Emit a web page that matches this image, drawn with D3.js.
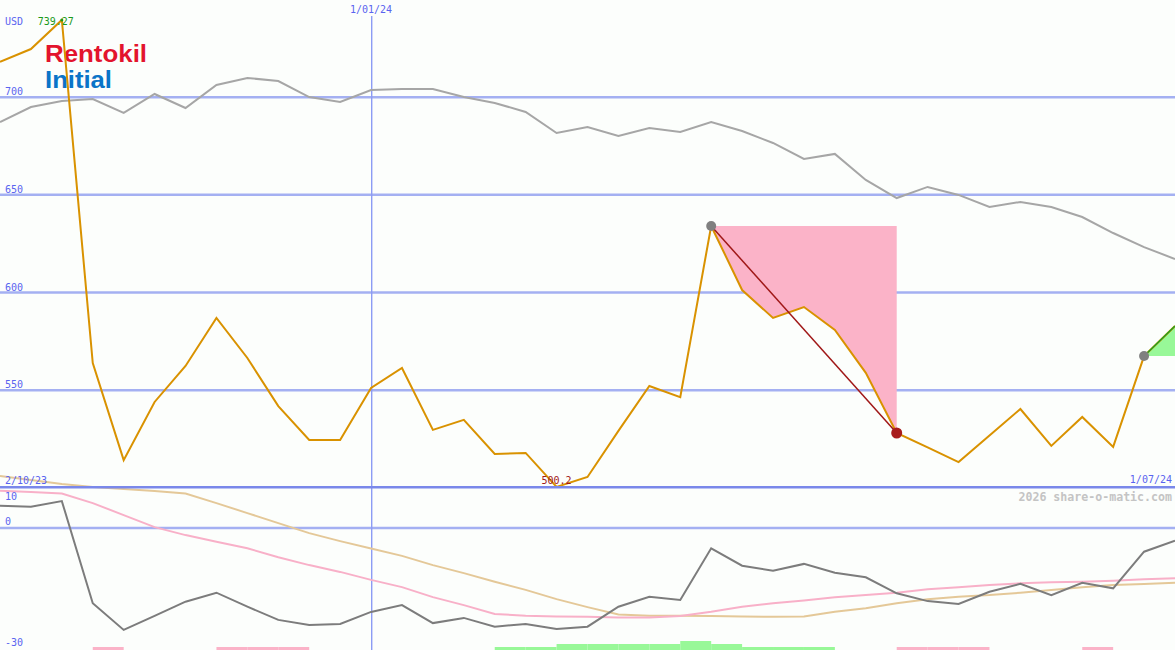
<!DOCTYPE html>
<html>
<head>
<meta charset="utf-8">
<script src="https://cdn.jsdelivr.net/npm/d3@7"></script>
<style>
html,body{margin:0;padding:0;background:#fcfefc;}
svg{display:block;}
</style>
</head>
<body>
<svg id="chart" width="1175" height="650"></svg>
<script>
// ---------- DATA ----------
const weekIndex = d3.range(39);
const price = [717.8,724.4,739.27,563.6,513.9,543.7,562.1,586.7,566.2,541.6,524.2,524.2,550.9,561.1,529.4,534.5,517.1,517.6,500.2,505.3,528.9,551.9,546.2,633.8,601.0,586.7,592.3,580.6,558.6,527.8,520.4,512.9,526.5,540.1,521.2,536.0,520.7,567.2,582.6];
const benchmark = [687.0,694.7,697.8,698.8,691.7,701.4,694.2,706.0,709.6,708.0,699.8,697.3,703.4,703.9,703.9,699.8,696.8,692.2,681.4,684.5,679.9,684.0,681.9,687.0,682.4,676.3,668.1,670.7,657.4,648.1,653.8,649.7,643.5,646.1,643.5,638.4,630.2,623.0,616.9];
const oscillator = [5.45,5.2,6.6,-18.95,-25.6,-22.1,-18.55,-16.3,-19.8,-23.1,-24.4,-24.1,-21.1,-19.4,-23.9,-22.6,-24.8,-24.1,-25.4,-24.8,-19.8,-17.3,-18.1,-5.2,-9.55,-10.8,-9.1,-11.3,-12.45,-16.45,-18.4,-19.1,-16.05,-14.1,-16.9,-13.8,-15.2,-6.05,-3.3];
const fastAvg = [9.2,8.9,8.5,6.1,3.1,0.1,-1.9,-3.55,-5.2,-7.45,-9.4,-11.1,-13.1,-14.9,-17.4,-19.4,-21.6,-22.05,-22.25,-22.3,-22.5,-22.5,-22.1,-21.05,-19.8,-18.95,-18.25,-17.45,-16.9,-16.3,-15.45,-14.95,-14.4,-13.95,-13.7,-13.55,-13.3,-12.95,-12.7];
const slowAvg = [12.9,11.9,10.9,10.1,9.6,9.1,8.5,6.1,3.6,1.1,-1.4,-3.4,-5.25,-7.1,-9.4,-11.4,-13.55,-15.6,-17.9,-19.9,-21.75,-22.05,-22.05,-22.1,-22.25,-22.3,-22.25,-21.05,-20.2,-18.95,-17.95,-17.3,-16.9,-16.3,-15.6,-14.95,-14.4,-14.1,-13.8];
// signal strip per week interval: + green, - pink
const signal = [0,0,0,-1,0,0,0,-1,-1,-1,0,0,0,0,0,0,1,1,2,2,2,2,3,2,1,1,1,0,0,-1,-1,-1,0,0,0,-1,0,0];
const priceTicks = [700,650,600,550];
const priceTickLabels = ["700","650","600","550"];
const oscTicks = [10,0,-30];
const oscTickLabels = ["10","0","-30"];
const dateTickIdx = [12];
const dateTickLabels = ["1/01/24"];
const startLabel = "2/10/23";
const endLabel = "1/07/24";
const currency = "USD";
const maxIdx = 2, minIdx = 18;
const maxLabel = "739.27", minLabel = "500.2";
const dropStart = 23, dropEnd = 29;
const riseStart = 37, riseEnd = 38;
const watermark = "2026 share-o-matic.com";
const logoWords = ["Rentokil", "Initial"];

// ---------- SCALES ----------
const W = 1175;
const x = d3.scaleLinear().domain([0, 38]).range([0, W]);
const y = d3.scaleLinear().domain([500, 700]).range([487.3, 96.7]);
const yL = d3.scaleLinear().domain([-30, 10]).range([647.5, 487.5]);

const svg = d3.select("#chart");
const mono = "'DejaVu Sans Mono', monospace";
const blueTxt = "#5a64f0";
const gridCol = "#a4b0f2";

// grid lines (main)
const gMainAxis = svg.append("g").call(d3.axisLeft(y).tickValues(priceTicks).tickSize(-W).tickFormat((d,i)=>priceTickLabels[i]));
gMainAxis.select(".domain").remove();
gMainAxis.selectAll(".tick line").attr("stroke", gridCol).attr("stroke-width", 2.5);
gMainAxis.selectAll(".tick text").attr("x", 5).attr("dy", -2).attr("dominant-baseline","auto").attr("text-anchor","start")
  .attr("fill", blueTxt).style("font-family", mono).style("font-size","10px");

// lower panel zero line
const gLowAxis = svg.append("g").call(d3.axisLeft(yL).tickValues([0]).tickSize(-W).tickFormat(""));
gLowAxis.select(".domain").remove();
gLowAxis.selectAll(".tick line").attr("stroke", gridCol).attr("stroke-width", 2.5);

// vertical date line
svg.selectAll(".vline").data(dateTickIdx).join("rect")
  .attr("x", d=>Math.round(x(d))).attr("width", 1.4)
  .attr("y", 16).attr("height", 634).attr("fill", "#8c9cf4");
svg.selectAll(".vlab").data(dateTickIdx).join("text")
  .attr("x", d=>x(d)).attr("y", 13).attr("text-anchor","middle")
  .attr("fill", blueTxt).style("font-family", mono).style("font-size","10px")
  .text((d,i)=>dateTickLabels[i]);

// logo
const logoFont = "'Liberation Sans', Arial, sans-serif";
svg.append("text").attr("x",45).attr("y",62).attr("textLength",102).attr("lengthAdjust","spacingAndGlyphs")
  .attr("fill","#e3142d").style("font-family",logoFont).style("font-weight","700").style("font-size","23px").text(logoWords[0]);
svg.append("text").attr("x",45).attr("y",88).attr("textLength",67).attr("lengthAdjust","spacingAndGlyphs")
  .attr("fill","#0a74c8").style("font-family",logoFont).style("font-weight","700").style("font-size","23px").text(logoWords[1]);

// benchmark line
const lineMain = d3.line().x((d,i)=>x(i)).y(d=>y(d));
svg.append("path").datum(benchmark).attr("d", lineMain).attr("fill","none").attr("stroke","#a6a6a6").attr("stroke-width",2);

// drawdown area (pink)
const dropPts = d3.range(dropStart, dropEnd+1).map(i=>[x(i), y(price[i])]);
const dropPoly = [[x(dropStart), y(price[dropStart])], [x(dropEnd), y(price[dropStart])], ...dropPts.slice().reverse()];
svg.append("path").attr("d", d3.line()(dropPoly)+"Z").attr("fill","#fbb3c8");

// rise area (green)
const risePts = d3.range(riseStart, riseEnd+1).map(i=>[x(i), y(price[i])]);
const risePoly = [[x(riseStart), y(price[riseStart])], [x(riseEnd), y(price[riseStart])], ...risePts.slice().reverse()];
svg.append("path").attr("d", d3.line()(risePoly)+"Z").attr("fill","#98f898");

// price line
svg.append("path").datum(price).attr("d", lineMain).attr("fill","none").attr("stroke","#d99200").attr("stroke-width",2);

// drop trend line
svg.append("line").attr("x1",x(dropStart)).attr("y1",y(price[dropStart])).attr("x2",x(dropEnd)).attr("y2",y(price[dropEnd]))
  .attr("stroke","#a01818").attr("stroke-width",1.5);
// rise line
svg.append("path").attr("d", d3.line()(risePts)).attr("fill","none").attr("stroke","#22a022").attr("stroke-width",1.5);

// markers
svg.append("circle").attr("cx",x(dropStart)).attr("cy",y(price[dropStart])).attr("r",5).attr("fill","#808080");
svg.append("circle").attr("cx",x(dropEnd)).attr("cy",y(price[dropEnd])).attr("r",5.5).attr("fill","#a81c1c");
svg.append("circle").attr("cx",x(riseStart)).attr("cy",y(price[riseStart])).attr("r",5).attr("fill","#808080");

// max point dot
svg.append("circle").attr("cx",x(maxIdx)).attr("cy",y(price[maxIdx])).attr("r",1.5).attr("fill","#1a9a1a");

// lower panel lines
const lineLow = d3.line().x((d,i)=>x(i)).y(d=>yL(d));
svg.append("path").datum(slowAvg).attr("d", lineLow).attr("fill","none").attr("stroke","#e4c898").attr("stroke-width",2);
svg.append("path").datum(fastAvg).attr("d", lineLow).attr("fill","none").attr("stroke","#f8b0c8").attr("stroke-width",2);
svg.append("path").datum(oscillator).attr("d", lineLow).attr("fill","none").attr("stroke","#7c7c7c").attr("stroke-width",2);

// panel separator
svg.append("line").attr("x1",0).attr("x2",W).attr("y1",y(500)).attr("y2",y(500)).attr("stroke","#7a88ea").attr("stroke-width",2.5);

// lower panel labels
svg.selectAll(".olab").data(oscTicks).join("text")
  .attr("x",5).attr("y",(d,i)=> i===0 ? yL(d)+12.5 : (i===2 ? yL(d)-1.5 : yL(d)-2.5))
  .attr("fill", blueTxt).style("font-family", mono).style("font-size","10px")
  .text((d,i)=>oscTickLabels[i]);

// signal strip
const stripH = 3;
svg.selectAll(".sig").data(signal.map((v,i)=>({v,i})).filter(d=>d.v!==0)).join("rect")
  .attr("x", d=>x(d.i)).attr("width", d=>x(d.i+1)-x(d.i))
  .attr("y", d=>650-Math.abs(d.v)*stripH).attr("height", d=>Math.abs(d.v)*stripH)
  .attr("fill", d=>d.v>0 ? "#98f898" : "#fbb3c8");

// text labels
svg.append("text").attr("x",5).attr("y",25).attr("fill",blueTxt).style("font-family",mono).style("font-size","10px").text(currency);
svg.append("text").attr("x",x(maxIdx)-6).attr("y",25).attr("text-anchor","middle").attr("fill","#1a9a1a").style("font-family",mono).style("font-size","10px").text(maxLabel);
svg.append("text").attr("x",x(minIdx)).attr("y",484).attr("text-anchor","middle").attr("fill","#a01818").style("font-family",mono).style("font-size","10px").text(minLabel);
svg.append("text").attr("x",5).attr("y",484).attr("fill",blueTxt).style("font-family",mono).style("font-size","10px").text(startLabel);
svg.append("text").attr("x",W-3).attr("y",483).attr("text-anchor","end").attr("fill",blueTxt).style("font-family",mono).style("font-size","10px").text(endLabel);
svg.append("text").attr("x",W-3).attr("y",501).attr("text-anchor","end").attr("fill","#c4c4c4").style("font-family",mono).style("font-size","11.6px").style("font-weight","bold").text(watermark);
</script>
</body>
</html>
